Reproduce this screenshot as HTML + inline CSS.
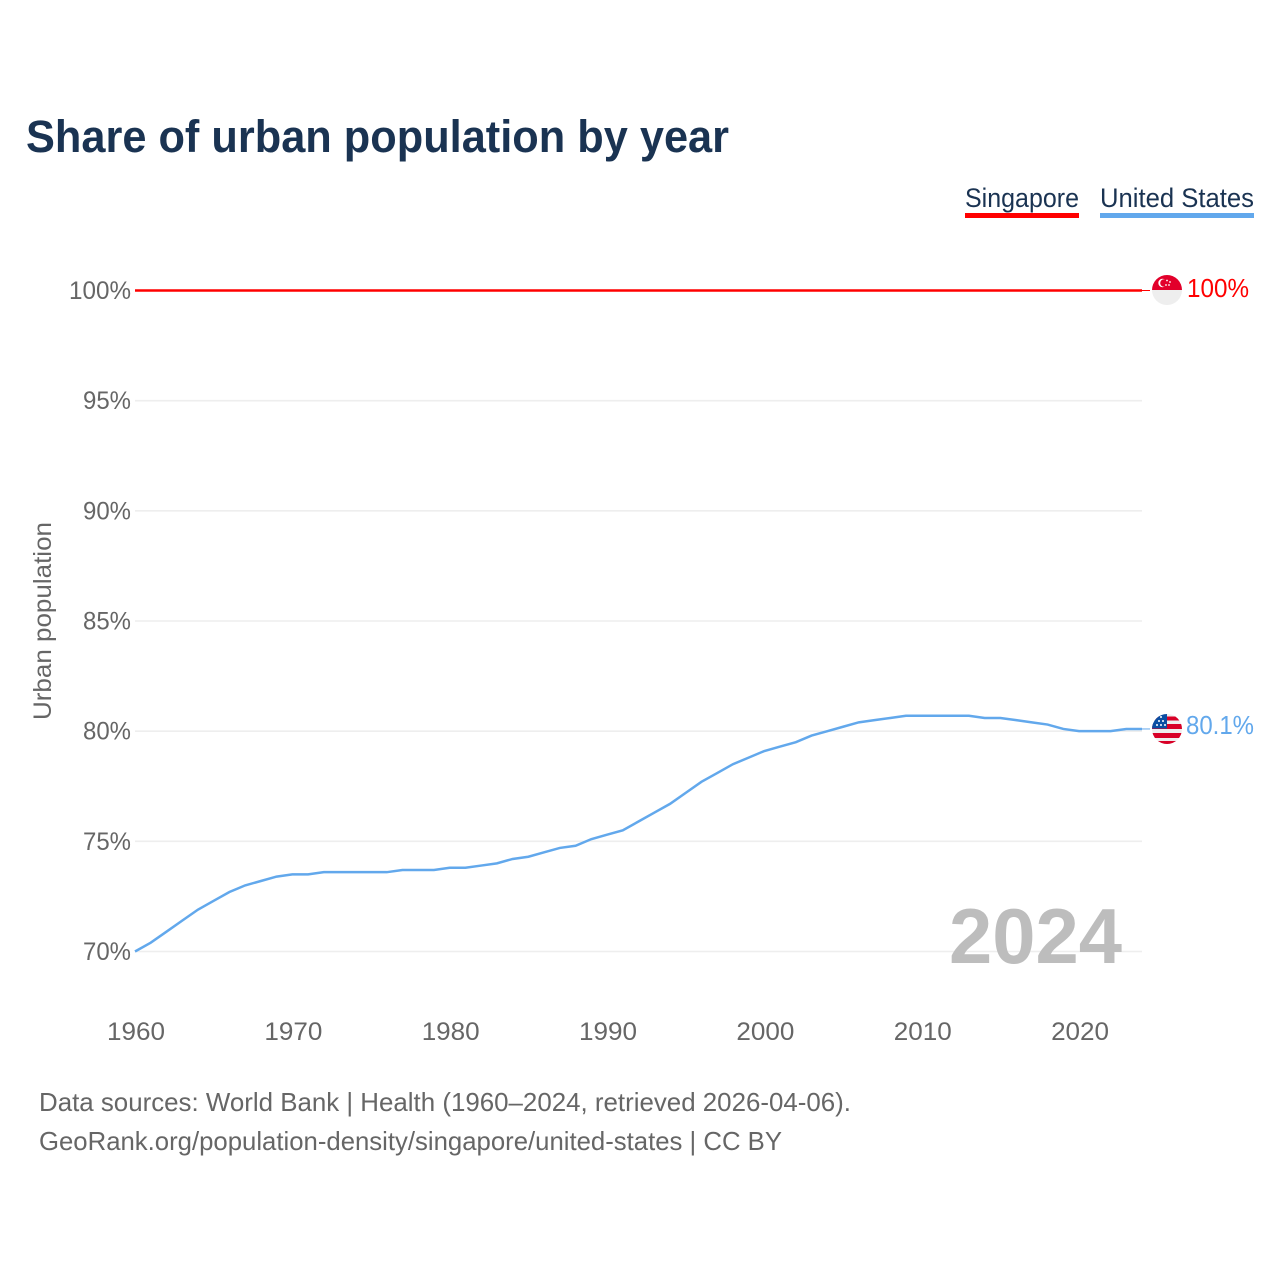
<!DOCTYPE html>
<html lang="en">
<head>
<meta charset="utf-8">
<title>Share of urban population by year</title>
<style>
html,body{margin:0;padding:0;background:#fff;width:1280px;height:1280px;overflow:hidden}
svg{display:block}
text{font-family:"Liberation Sans",sans-serif}
</style>
</head>
<body>
<svg id="chart" width="1280" height="1280" viewBox="0 0 1280 1280" xmlns="http://www.w3.org/2000/svg">
  <defs>
    <clipPath id="sg-clip"><circle cx="1167" cy="290" r="15"/></clipPath>
    <clipPath id="us-clip"><circle cx="1167" cy="729" r="15"/></clipPath>
  </defs>
  <text x="26" y="152" font-size="45" font-weight="700" fill="#1a3352" textLength="703" lengthAdjust="spacingAndGlyphs">Share of urban population by year</text>

  <g>
    <text x="965" y="207" font-size="27" fill="#1a3352" textLength="114" lengthAdjust="spacingAndGlyphs">Singapore</text>
    <rect x="965" y="213" width="114" height="5" fill="#ff0000"/>
  </g>
  <g>
    <text x="1100" y="207" font-size="27" fill="#1a3352" textLength="154" lengthAdjust="spacingAndGlyphs">United States</text>
    <rect x="1100" y="213" width="154" height="5" fill="#62a8ec"/>
  </g>

  <g id="grid"></g>
  <g id="y-ticks"></g>
  <g id="x-ticks"></g>

  <text transform="translate(51,621) rotate(-90)" text-anchor="middle" font-size="25" fill="#666666" textLength="198" lengthAdjust="spacingAndGlyphs">Urban population</text>

  <text x="1122" y="963" text-anchor="end" font-size="78" font-weight="700" fill="#bdbdbd" textLength="173" lengthAdjust="spacingAndGlyphs">2024</text>

  <g id="series"></g>

  <g clip-path="url(#sg-clip)">
    <rect x="1152" y="275" width="30" height="15" fill="#e2002b"/>
    <rect x="1152" y="290" width="30" height="15" fill="#eeeeee"/>
    <circle cx="1162.5" cy="283" r="4.2" fill="#ffffff"/>
    <circle cx="1164" cy="283" r="3.8" fill="#e2002b"/>
    <circle cx="1167" cy="280.5" r="0.9" fill="#ffffff"/>
    <circle cx="1170" cy="282" r="0.9" fill="#ffffff"/>
    <circle cx="1169" cy="285" r="0.9" fill="#ffffff"/>
    <circle cx="1166" cy="285" r="0.9" fill="#ffffff"/>
  </g>
  <text x="1187" y="297" font-size="26" fill="#ff0000" textLength="62" lengthAdjust="spacingAndGlyphs">100%</text>

  <g clip-path="url(#us-clip)">
    <rect x="1152" y="714" width="30" height="30" fill="#eeeeee"/>
    <rect x="1152" y="716.5" width="30" height="4" fill="#d80027"/>
    <rect x="1152" y="724" width="30" height="5" fill="#d80027"/>
    <rect x="1152" y="733" width="30" height="5" fill="#d80027"/>
    <rect x="1152" y="741" width="30" height="4" fill="#d80027"/>
    <rect x="1152" y="714" width="15" height="14.5" fill="#0b4ea2"/>
    <circle cx="1157" cy="725" r="1" fill="#ffffff"/>
    <circle cx="1161" cy="725" r="1" fill="#ffffff"/>
    <circle cx="1165" cy="725" r="1" fill="#ffffff"/>
    <circle cx="1159" cy="721" r="1" fill="#ffffff"/>
    <circle cx="1163" cy="721" r="1" fill="#ffffff"/>
    <circle cx="1161" cy="717" r="1" fill="#ffffff"/>
  </g>
  <text x="1186" y="734" font-size="26" fill="#62a8ec" textLength="68" lengthAdjust="spacingAndGlyphs">80.1%</text>

  <text x="39" y="1111" font-size="26" fill="#666666" textLength="812" lengthAdjust="spacingAndGlyphs">Data sources: World Bank | Health (1960–2024, retrieved 2026-04-06).</text>
  <text x="39" y="1150" font-size="26" fill="#666666" textLength="743" lengthAdjust="spacingAndGlyphs">GeoRank.org/population-density/singapore/united-states | CC BY</text>
</svg>
<script>
const years = [1960,1961,1962,1963,1964,1965,1966,1967,1968,1969,1970,1971,1972,1973,1974,1975,1976,1977,1978,1979,1980,1981,1982,1983,1984,1985,1986,1987,1988,1989,1990,1991,1992,1993,1994,1995,1996,1997,1998,1999,2000,2001,2002,2003,2004,2005,2006,2007,2008,2009,2010,2011,2012,2013,2014,2015,2016,2017,2018,2019,2020,2021,2022,2023,2024];
const unitedStates = [70.0,70.4,70.9,71.4,71.9,72.3,72.7,73.0,73.2,73.4,73.5,73.5,73.6,73.6,73.6,73.6,73.6,73.7,73.7,73.7,73.8,73.8,73.9,74.0,74.2,74.3,74.5,74.7,74.8,75.1,75.3,75.5,75.9,76.3,76.7,77.2,77.7,78.1,78.5,78.8,79.1,79.3,79.5,79.8,80.0,80.2,80.4,80.5,80.6,80.7,80.7,80.7,80.7,80.7,80.6,80.6,80.5,80.4,80.3,80.1,80.0,80.0,80.0,80.1,80.1];
const singapore = [100,100,100,100,100,100,100,100,100,100,100,100,100,100,100,100,100,100,100,100,100,100,100,100,100,100,100,100,100,100,100,100,100,100,100,100,100,100,100,100,100,100,100,100,100,100,100,100,100,100,100,100,100,100,100,100,100,100,100,100,100,100,100,100,100];
const yTicks = [70,75,80,85,90,95,100];
const xTicks = [1960,1970,1980,1990,2000,2010,2020];

const NS = 'http://www.w3.org/2000/svg';
const xScale = function (year) { return 135 + (year - 1960) * (1142 - 135) / (2024 - 1960); };
const yScale = function (pct) { return 951.5 - (pct - 70) * (951.5 - 290.5) / 30; };

const grid = document.getElementById('grid');
const yGroup = document.getElementById('y-ticks');
const xGroup = document.getElementById('x-ticks');
const seriesGroup = document.getElementById('series');

yTicks.forEach(function (t) {
  const line = document.createElementNS(NS, 'line');
  
  
  line.setAttribute('x1', 135);
  line.setAttribute('x2', 1142);
  line.setAttribute('y1', yScale(t));
  line.setAttribute('y2', yScale(t));
  line.setAttribute('stroke', '#eeeeee');
  line.setAttribute('stroke-width', 1.6);
  grid.appendChild(line);

  const label = document.createElementNS(NS, 'text');
  
  
  label.setAttribute('x', 131);
  label.setAttribute('y', yScale(t) + 8.5);
  label.setAttribute('text-anchor', 'end');
  label.setAttribute('font-size', 25);
  label.setAttribute('fill', '#666666');
  label.setAttribute('textLength', t === 100 ? 62 : 48);
  label.setAttribute('lengthAdjust', 'spacingAndGlyphs');
  label.textContent = t + '%';
  yGroup.appendChild(label);
});

xTicks.forEach(function (t) {
  const label = document.createElementNS(NS, 'text');
  
  
  label.setAttribute('x', xScale(t) + 1);
  label.setAttribute('y', 1040);
  label.setAttribute('text-anchor', 'middle');
  label.setAttribute('font-size', 25);
  label.setAttribute('fill', '#666666');
  label.setAttribute('textLength', 58);
  label.setAttribute('lengthAdjust', 'spacingAndGlyphs');
  label.textContent = String(t);
  xGroup.appendChild(label);
});

function linePoints(values) {
  return values.map(function (v, i) {
    return xScale(years[i]).toFixed(2) + ',' + yScale(v).toFixed(2);
  }).join(' ');
}

function endConnector(values, colour) {
  const y = yScale(values[values.length - 1]);
  const link = document.createElementNS(NS, 'line');
  link.setAttribute('x1', xScale(years[years.length - 1]));
  link.setAttribute('x2', xScale(years[years.length - 1]) + 8);
  link.setAttribute('y1', y);
  link.setAttribute('y2', y);
  link.setAttribute('stroke', colour);
  link.setAttribute('stroke-width', 1);
  return link;
}

const singaporeLine = document.createElementNS(NS, 'polyline');


singaporeLine.setAttribute('points', linePoints(singapore));
singaporeLine.setAttribute('fill', 'none');
singaporeLine.setAttribute('stroke', '#ff0000');
singaporeLine.setAttribute('stroke-width', 2.5);
seriesGroup.appendChild(singaporeLine);

const singaporeLink = endConnector(singapore, '#ff0000');


seriesGroup.appendChild(singaporeLink);

const usLine = document.createElementNS(NS, 'polyline');


usLine.setAttribute('points', linePoints(unitedStates));
usLine.setAttribute('fill', 'none');
usLine.setAttribute('stroke', '#62a8ec');
usLine.setAttribute('stroke-width', 2.5);
seriesGroup.appendChild(usLine);

const usLink = endConnector(unitedStates, '#62a8ec');


seriesGroup.appendChild(usLink);
</script>
</body>
</html>
